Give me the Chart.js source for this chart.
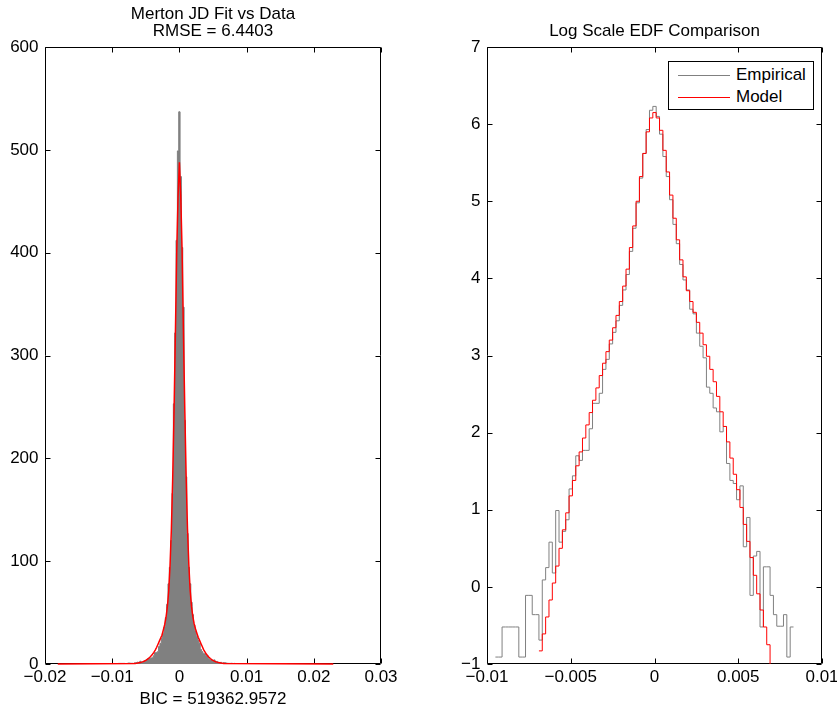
<!DOCTYPE html>
<html>
<head>
<meta charset="utf-8">
<title>Merton JD fit</title>
<script src="https://cdn.jsdelivr.net/npm/chart.js@4.4.1/dist/chart.umd.min.js"></script>
<style>
  html, body { margin: 0; padding: 0; background: #fff; overflow: hidden; }
  body { width: 837px; height: 714px; position: relative; }
  canvas { position: absolute; top: 0; }
  #histCanvas { left: 0; }
  #logCanvas { left: 440px; }
  #legend {
    position: absolute; left: 668px; top: 61px; width: 144px; height: 47px;
    border: 1px solid #000; background: #fff;
    font: 17px "Liberation Sans", Arial, Helvetica, sans-serif; color: #000;
  }
  #legend .item { position: absolute; left: 0; height: 20px; line-height: 20px; }
  #legend .swatch { position: absolute; left: 9px; top: 10px; width: 52px; height: 0; border-top: 1px solid; }
  #legend .label { position: absolute; left: 67px; top: 0; white-space: nowrap; }
</style>
</head>
<body>
<canvas id="histCanvas" width="426" height="714"></canvas>
<canvas id="logCanvas" width="420" height="714"></canvas>
<div id="legend"></div>
<script>
// histogram bins are 0.0002 wide, bin k is centred on k * binWidth
const binWidth = 0.0002;

// left panel: histogram of returns (height per bin), bins -47 .. 41
const histFirstBin = -47;
const histHeights = [
  0.4, 0.4, 0.6, 0.6, 0.6, 0.6, 0.6, 0.4, 0.4, 0.9,
  0.9, 0.7, 0.7, 0.5, 1.1, 1.3, 1.8, 1.2, 2.7, 1.8,
  2.1, 2.4, 3.6, 4.2, 5.5, 5.2, 5.9, 6, 8, 11,
  11, 12, 17, 20, 25, 30, 36, 45, 58, 78,
  94, 120, 166, 253, 322, 412, 499, 537, 474, 405,
  347, 237, 182, 127, 94, 78, 60, 48, 38, 32,
  27, 23, 20, 14, 12, 10, 10, 8, 8, 5,
  4, 4, 3, 4, 2, 2.5, 1, 1.4, 1.6, 0.6,
  1.3, 1.3, 0.9, 0.7, 0.6, 0.6, 0.7, 0.4, 0.6
];

// left panel: fitted Merton JD density at bin centres -34 .. 34
const fitFirstBin = -34;
const fitDensity = [
  0.5, 0.6, 0.7, 0.9, 1.2, 1.5, 1.8, 2.3, 2.9, 3.6,
  4.4, 5.4, 6.6, 8, 9.5, 11.3, 13.5, 16, 19, 22,
  25, 28, 33, 38, 45, 55, 70, 95, 130, 180,
  245, 320, 400, 455, 488, 455, 402, 322, 248, 183,
  132, 97, 72, 56, 46, 39, 34, 30, 26, 23,
  20, 17, 14, 11.8, 9.7, 8, 6.6, 5.3, 4.3, 3.5,
  2.8, 2.2, 1.8, 1.5, 1.2, 0.9, 0.7, 0.6, 0.5
];
// the fitted curve is drawn flat at zero out to these ends
const fitEnds = [-0.0181, 0.0229];

// right panel: log densities, empirical bins -47 .. 41
const empFirstBin = -47;
const empiricalLog = [
  -0.91, -0.91, -0.52, -0.52, -0.52, -0.52, -0.52, -0.91, -0.91, -0.11,
  -0.11, -0.36, -0.36, -0.69, 0.09, 0.25, 0.58, 0.18, 0.99, 0.58,
  0.72, 0.87, 1.27, 1.44, 1.70, 1.64, 1.77, 1.77, 2.05, 2.38,
  2.38, 2.51, 2.82, 2.95, 3.15, 3.30, 3.45, 3.65, 3.85, 4.05,
  4.35, 4.65, 4.98, 5.30, 5.62, 5.93, 6.18, 6.23, 6.10, 5.87,
  5.58, 5.32, 5.02, 4.70, 4.45, 4.18, 3.98, 3.85, 3.60, 3.54,
  3.29, 3.12, 2.97, 2.59, 2.51, 2.32, 2.27, 2.01, 2.08, 1.60,
  1.38, 1.34, 1.13, 1.31, 0.52, 0.90, -0.11, 0.40, 0.46, -0.52,
  0.26, 0.26, -0.11, -0.36, -0.51, -0.51, -0.36, -0.91, -0.52
];

// right panel: model log density, bins -34 .. 35
const modelFirstBin = -34;
const modelLog = [
  -0.83, -0.61, -0.39, -0.17, 0.05, 0.27, 0.50, 0.74, 0.96, 1.18,
  1.38, 1.57, 1.75, 1.93, 2.10, 2.26, 2.42, 2.58, 2.74, 2.90,
  3.05, 3.20, 3.36, 3.52, 3.70, 3.90, 4.12, 4.40, 4.68, 5.00,
  5.32, 5.62, 5.90, 6.08, 6.15, 6.08, 5.92, 5.66, 5.38, 5.08,
  4.78, 4.50, 4.24, 4.02, 3.84, 3.70, 3.56, 3.43, 3.29, 3.14,
  2.99, 2.82, 2.66, 2.47, 2.27, 2.08, 1.88, 1.67, 1.46, 1.26,
  1.03, 0.81, 0.59, 0.38, 0.15, -0.09, -0.30, -0.52, -0.75, -1.05
];

// axis ticks
const histXTicks = [-0.02, -0.01, 0, 0.01, 0.02, 0.03];
const histYTicks = [0, 100, 200, 300, 400, 500, 600];
const logXTicks = [-0.01, -0.005, 0, 0.005, 0.01];
const logYTicks = [-1, 0, 1, 2, 3, 4, 5, 6, 7];

const fontFamily = '"Liberation Sans", Arial, Helvetica, sans-serif';
const fontSize = 17;
const gray = 'rgb(128,128,128)';
const red = 'rgb(255,0,0)';

// step outline: one point per left bin edge plus the last right edge
function stairs(firstBin, values) {
  const pts = values.map((v, i) => ({ x: (firstBin + i - 0.5) * binWidth, y: v }));
  pts.push({ x: (firstBin + values.length - 0.5) * binWidth, y: values[values.length - 1] });
  return pts;
}

function curve(firstBin, values) {
  const pts = values.map((v, i) => ({ x: (firstBin + i) * binWidth, y: v }));
  return [{ x: fitEnds[0], y: 0 }].concat(pts, [{ x: fitEnds[1], y: 0 }]);
}

function fmt(v) {
  const s = String(+v.toFixed(4));
  return v < 0 ? '\u2212' + s.slice(1) : s;
}

function fixedTicks(list) {
  return scale => { scale.ticks = list.map(v => ({ value: v })); };
}

// matlab style box with inward ticks on all four sides
const axesBox = {
  id: 'axesBox',
  beforeDatasetsDraw(chart) {
    const { ctx, chartArea: a, scales } = chart;
    const L = Math.round(a.left) + 0.5, R = Math.round(a.right) - 0.5;
    const T = Math.round(a.top) + 0.5, B = Math.round(a.bottom) - 0.5;
    const len = 5;
    ctx.save();
    ctx.strokeStyle = '#000';
    ctx.lineWidth = 1;
    ctx.beginPath();
    ctx.rect(L, T, R - L, B - T);
    scales.x.ticks.forEach(t => {
      const p = Math.round(scales.x.getPixelForValue(t.value)) + 0.5;
      ctx.moveTo(p, B); ctx.lineTo(p, B - len);
      ctx.moveTo(p, T); ctx.lineTo(p, T + len);
    });
    scales.y.ticks.forEach(t => {
      const p = Math.round(scales.y.getPixelForValue(t.value)) + 0.5;
      ctx.moveTo(L, p); ctx.lineTo(L + len, p);
      ctx.moveTo(R, p); ctx.lineTo(R - len, p);
    });
    ctx.stroke();
    ctx.restore();
  }
};

function scales(xr, yr, xt, yt, yWidth, xTitle) {
  const font = { size: fontSize, family: fontFamily };
  return {
    x: {
      type: 'linear', min: xr[0], max: xr[1],
      afterBuildTicks: fixedTicks(xt),
      afterFit: s => { s.height = 50; },
      grid: { display: false, drawTicks: false },
      border: { display: false },
      ticks: { padding: 3.6, maxRotation: 0, autoSkip: false, color: '#000', font: font, callback: v => fmt(v) },
      title: xTitle ? { display: true, text: xTitle, color: '#000', font: font, padding: { top: 4.8, bottom: 4.8 } } : { display: false }
    },
    y: {
      type: 'linear', min: yr[0], max: yr[1],
      afterBuildTicks: fixedTicks(yt),
      afterFit: s => { s.width = yWidth; },
      grid: { display: false, drawTicks: false },
      border: { display: false },
      ticks: { padding: 6.5, autoSkip: false, color: '#000', font: font, callback: v => fmt(v) }
    }
  };
}

function titleOpts(text, padTop) {
  return {
    display: true, text: text, color: '#000', fullSize: false,
    font: { size: fontSize, family: fontFamily, weight: 'normal', lineHeight: 1.03 },
    padding: { top: padTop, bottom: 6.65 }
  };
}

new Chart(document.getElementById('histCanvas'), {
  type: 'line',
  data: {
    datasets: [
      {
        label: 'Fit', order: 0, data: curve(fitFirstBin, fitDensity),
        borderColor: red, borderWidth: 1.5, pointRadius: 0, tension: 0, fill: false, clip: 2
      },
      {
        label: 'Data', order: 1, data: stairs(histFirstBin, histHeights), stepped: true,
        borderColor: gray, backgroundColor: gray, borderWidth: 1, pointRadius: 0, fill: 'origin'
      }
    ]
  },
  options: {
    responsive: false, animation: false, events: [],
    layout: { padding: { left: 0, right: 45, top: 0, bottom: 0 } },
    scales: scales([-0.02, 0.03], [0, 600], histXTicks, histYTicks, 45, 'BIC = 519362.9572'),
    plugins: {
      legend: { display: false }, tooltip: { enabled: false },
      title: titleOpts(['Merton JD Fit vs Data', 'RMSE = 6.4403'], 5.35)
    }
  },
  plugins: [axesBox]
});

const logChart = new Chart(document.getElementById('logCanvas'), {
  type: 'line',
  data: {
    datasets: [
      {
        label: 'Model', order: 0, data: stairs(modelFirstBin, modelLog), stepped: true,
        borderColor: red, borderWidth: 1, pointRadius: 0, fill: false
      },
      {
        label: 'Empirical', order: 1, data: stairs(empFirstBin, empiricalLog), stepped: true,
        borderColor: gray, borderWidth: 1, pointRadius: 0, fill: false
      }
    ]
  },
  options: {
    responsive: false, animation: false, events: [],
    layout: { padding: { left: 0, right: 38, top: 0, bottom: 0 } },
    scales: scales([-0.01, 0.01], [-1, 7], logXTicks, logYTicks, 47, null),
    plugins: {
      legend: { display: false }, tooltip: { enabled: false },
      title: titleOpts('Log Scale EDF Comparison', 22.85)
    }
  },
  plugins: [axesBox]
});

// legend box, empirical first as in the figure
const legend = document.getElementById('legend');
['Empirical', 'Model'].forEach((name, i) => {
  const ds = logChart.data.datasets.find(d => d.label === name);
  const item = document.createElement('div');
  item.className = 'item';
  item.style.top = (3 + i * 22) + 'px';
  item.style.width = '100%';
  item.innerHTML = '<span class="swatch" style="border-color:' + ds.borderColor + '"></span><span class="label">' + name + '</span>';
  legend.appendChild(item);
});
</script>
</body>
</html>
